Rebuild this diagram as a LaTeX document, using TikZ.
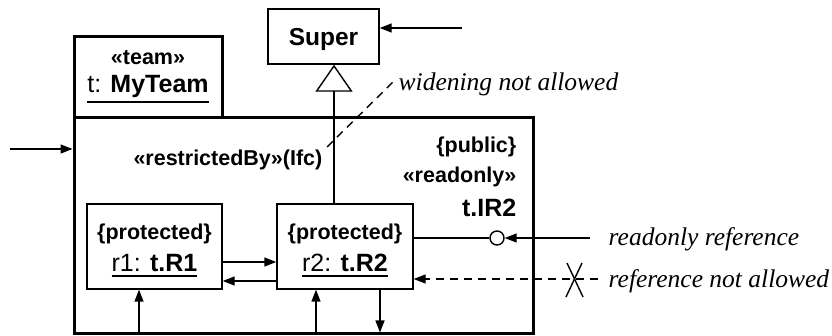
\documentclass[tikz,border=0pt]{standalone}
\usepackage{fontspec}
\setmainfont{Liberation Serif}
\setsansfont{Liberation Sans}
\usetikzlibrary{arrows.meta,calc}
\newcommand\thickul[1]{\setbox0=\hbox{#1}\vtop{\copy0\kern3pt\hrule height 1.8pt}}
\begin{document}
\begin{tikzpicture}[x=1pt,y=-1pt,line width=1.4pt,
  box/.style={draw,line width=1.4pt,inner sep=0pt},
  thickbox/.style={draw,line width=3pt,inner sep=0pt},
  stereo/.style={font=\fontsize{21.5}{24}\selectfont\sffamily\bfseries,inner sep=0pt},
  objname/.style={font=\fontsize{25}{28}\selectfont\sffamily,inner sep=0pt},
  note/.style={font=\fontsize{25.5}{28}\selectfont\itshape,inner sep=0pt},
  arr/.style={-{Triangle[length=12pt,width=9pt]}},
  dashpat/.style={dash pattern=on 8pt off 6pt}]
\useasboundingbox (0,0) rectangle (832,336);
% boxes
\node[box,minimum width=111pt,minimum height=55pt] (super) at (323.5,36.5) {};
\node[stereo,font=\fontsize{24.5}{28}\selectfont\sffamily\bfseries,anchor=base] (supertxt) at (323.5,46) {Super};
\node[thickbox,minimum width=148pt,minimum height=81pt] (tab) at (148,77.5) {};
\node[thickbox,minimum width=459pt,minimum height=216pt] (frame) at (303.5,226) {};
\node[box,minimum width=135pt,minimum height=85pt] (r1) at (154.5,246.5) {};
\node[box,minimum width=136pt,minimum height=85pt] (r2) at (345,246.5) {};
% texts
\node[stereo,anchor=base] (teamst) at (148,65) {«team»};
\node[objname,anchor=base] (teamname) at (148,93) {\thickul{t: \textbf{MyTeam}}};
\node[stereo,anchor=base east] (restr) at (323,166) {«restrictedBy»(Ifc)};
\node[stereo,anchor=base east] (pub) at (517,153) {\{public\}};
\node[stereo,anchor=base east] (ro) at (517,183) {«readonly»};
\node[objname,anchor=base east,font=\fontsize{25}{28}\selectfont\sffamily\bfseries] (lr2) at (517,217) {t.IR2};
\node[stereo,anchor=base] (r1st) at (154.5,240) {\{protected\}};
\node[objname,anchor=base] (r1name) at (154.5,272) {\thickul{r1: \textbf{t.R1}}};
\node[stereo,anchor=base] (r2st) at (345,240) {\{protected\}};
\node[objname,anchor=base] (r2name) at (345,272) {\thickul{r2: \textbf{t.R2}}};
\node[note,anchor=base west] (widen) at (398,91) {widening not allowed};
\node[note,anchor=base west] (rorefl) at (608,246) {readonly reference};
\node[note,anchor=base west] (notal) at (608,288) {reference not allowed};
% generalization
\coordinate (g) at (334,0);
\draw[-{Triangle[open,length=27pt,width=37pt]}] (r2.north -| g) -- (super.south -| g);
\coordinate (w1) at (327,147);
\coordinate (w2) at (393,82);
\draw[dashpat] (w1) -- (w2);
% incoming arrows
\coordinate (sin) at (462,28);
\draw[arr] (sin) -- (sin -| super.east);
\coordinate (lin) at (10,149);
\draw[arr] (lin) -- (lin -| frame.west);
% between roles
\coordinate (h1) at (0,262);
\coordinate (h2) at (0,281);
\draw[arr] (r1.east |- h1) -- (r2.west |- h1);
\draw[arr] (r2.west |- h2) -- (r1.east |- h2);
% bottom arrows
\coordinate (b1) at (139,0);
\coordinate (b2) at (316,0);
\coordinate (b3) at (380,0);
\draw[arr] (frame.south -| b1) -- (r1.south -| b1);
\draw[arr] (frame.south -| b2) -- (r2.south -| b2);
\draw[arr] (r2.south -| b3) -- ([yshift=3pt]frame.south -| b3);
% lollipop
\node[draw,circle,line width=1.4pt,minimum size=14pt,inner sep=0pt] (lolly) at (497,238) {};
\draw (r2.east |- lolly) -- (lolly.west);
\coordinate (rin) at (590,238);
\draw[arr] (rin) -- (lolly.east);
% not allowed
\coordinate (din) at (598,279);
\draw[arr,dashpat] (din) -- (din -| r2.east);
\draw (567,263) -- (583,297);
\draw (582,263) -- (566,297);
\end{tikzpicture}
\end{document}
